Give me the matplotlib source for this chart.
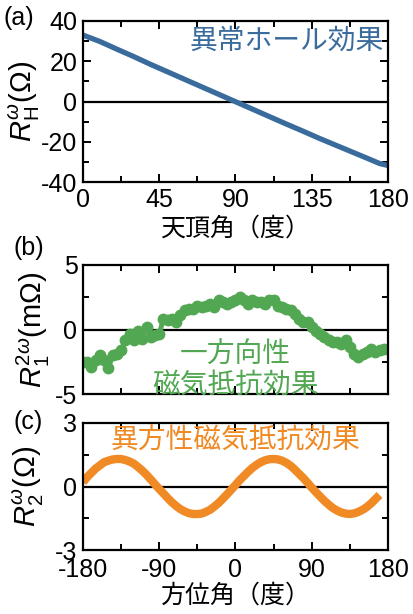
import matplotlib
matplotlib.use("Agg")
import matplotlib.pyplot as plt
from matplotlib.ticker import MultipleLocator

plt.rcParams['font.family'] = ['Liberation Sans', 'Noto Sans CJK JP', 'DejaVu Sans']
plt.rcParams['mathtext.fontset'] = 'custom'
plt.rcParams['mathtext.rm'] = 'Liberation Sans'
plt.rcParams['mathtext.it'] = 'Liberation Sans:italic'
plt.rcParams['axes.unicode_minus'] = False

# (a) anomalous Hall: zenith angle (deg) vs R_H (Ohm)
zenith = [0, 10, 20, 30, 40, 50, 60, 70, 80, 90, 100, 110, 120, 130, 140, 150, 160, 170, 175, 180]
r_hall = [33.0, 29.8, 26.0, 22.3, 18.4, 14.7, 11.0, 7.3, 3.6, -0.1, -3.8, -7.5, -11.2,
          -14.8, -18.5, -22.0, -25.5, -29.0, -30.8, -31.8]

# (b) unidirectional MR: azimuth (deg) vs R_1^2w (mOhm)
azim_b = list(range(-180, 180, 5))
r_umr = [-2.5, -2.5, -2.9, -2.4, -2.0, -2.4, -3.0, -2.0, -1.9, -1.6, -0.85, -0.35,
         -0.85, -0.1, -0.7, 0.2, -0.6, -0.45, -0.35, 0.85, 0.7, 0.85, 0.6, 1.1,
         1.5, 1.6, 1.6, 1.85, 1.75, 1.85, 2.0, 1.75, 2.25, 2.1, 2.0, 2.1,
         2.25, 2.5, 2.25, 2.0, 2.25, 2.1, 2.1, 2.0, 2.25, 2.25, 1.85, 1.75,
         1.6, 1.5, 1.2, 0.85, 0.55, 0.55, 0.2, -0.1, -0.35, -0.6, -0.85, -1.0,
         -1.0, -1.1, -0.85, -1.35, -1.9, -2.15, -1.9, -1.75, -1.5, -1.75, -1.6, -1.5]

# (c) anisotropic MR: azimuth (deg) vs R_2 (Ohm)
azim_c = list(range(-180, 175, 5))
r_amr = [0.2, 0.45, 0.65, 0.85, 1.0, 1.15, 1.22, 1.28, 1.3, 1.3, 1.25, 1.18,
         1.08, 0.92, 0.75, 0.55, 0.33, 0.1, -0.12, -0.33, -0.55, -0.75, -0.92, -1.07,
         -1.18, -1.26, -1.3, -1.3, -1.28, -1.2, -1.1, -0.95, -0.78, -0.58, -0.37, -0.15,
         0.07, 0.3, 0.5, 0.7, 0.88, 1.03, 1.15, 1.24, 1.29, 1.3, 1.28, 1.22,
         1.12, 0.98, 0.8, 0.6, 0.4, 0.18, -0.05, -0.27, -0.48, -0.68, -0.86, -1.02,
         -1.14, -1.23, -1.28, -1.3, -1.27, -1.2, -1.1, -0.97, -0.8, -0.6, -0.4]

blue = '#3a6b9d'
green = '#52a852'
orange = '#f08a24'
FS = 18
YFS = 21
JP = ['Noto Sans CJK JP', 'DejaVu Sans']

fig = plt.figure(figsize=(4.14, 6.14), dpi=100)
W, H = 414, 614


def make_ax(top, bottom):
    ax = fig.add_axes([83 / W, 1 - bottom / H, 305 / W, (bottom - top) / H])
    for s in ax.spines.values():
        s.set_linewidth(1.6)
    ax.tick_params(which='both', direction='in', top=True, right=True,
                   labelsize=FS, width=1.4, pad=4)
    ax.tick_params(which='major', length=6)
    ax.tick_params(which='minor', length=4)
    ax.axhline(0, color='black', lw=1.6, zorder=1)
    return ax


# panel (a)
ax1 = make_ax(21, 182)
ax1.plot(zenith, r_hall, color=blue, lw=3.8, solid_capstyle='round', zorder=2)
ax1.set_xlim(0, 180)
ax1.set_ylim(-40, 40)
ax1.xaxis.set_major_locator(MultipleLocator(45))
ax1.xaxis.set_minor_locator(MultipleLocator(22.5))
ax1.yaxis.set_major_locator(MultipleLocator(20))
ax1.yaxis.set_minor_locator(MultipleLocator(10))
ax1.set_xlabel('天頂角（度）', family=JP, fontsize=FS, labelpad=3)
ax1.set_ylabel(r'$R_\mathrm{H}^{\omega}$(Ω)', fontsize=YFS)
ax1.yaxis.set_label_coords(-0.135, 0.5)
ax1.text(0.985, 0.875, '異常ホール効果', transform=ax1.transAxes, color=blue,
         family=JP, fontsize=20, ha='right', va='center')

# panel (b)
ax2 = make_ax(265, 394)
ax2.plot(azim_b, r_umr, color=green, lw=3.5, marker='o', ms=7.5, zorder=2)
ax2.set_xlim(-180, 180)
ax2.set_ylim(-5, 5)
ax2.xaxis.set_major_locator(MultipleLocator(90))
ax2.xaxis.set_minor_locator(MultipleLocator(45))
ax2.yaxis.set_major_locator(MultipleLocator(5))
ax2.yaxis.set_minor_locator(MultipleLocator(2.5))
ax2.tick_params(labelbottom=False)
ax2.set_ylabel(r'$R_1^{2\omega}$(mΩ)', fontsize=YFS)
ax2.yaxis.set_label_coords(-0.1, 0.5)
ax2.text(0.5, 0.19, '一方向性\n磁気抵抗効果', transform=ax2.transAxes, color=green,
         family=JP, fontsize=20, ha='center', va='center', linespacing=1.0)

# panel (c)
ax3 = make_ax(423, 550)
ax3.plot(azim_c, r_amr, color=orange, lw=6, solid_capstyle='butt', zorder=2)
ax3.set_xlim(-180, 180)
ax3.set_ylim(-3, 3)
ax3.xaxis.set_major_locator(MultipleLocator(90))
ax3.xaxis.set_minor_locator(MultipleLocator(45))
ax3.yaxis.set_major_locator(MultipleLocator(3))
ax3.yaxis.set_minor_locator(MultipleLocator(1.5))
ax3.tick_params(axis='x', pad=6)
ax3.set_xlabel('方位角（度）', family=JP, fontsize=FS, labelpad=0)
ax3.set_ylabel(r'$R_2^{\omega}$(Ω)', fontsize=YFS)
ax3.yaxis.set_label_coords(-0.12, 0.5)
ax3.text(0.5, 0.86, '異方性磁気抵抗効果', transform=ax3.transAxes, color=orange,
         family=JP, fontsize=20, ha='center', va='center')

fig.text(4 / W, 1 - 18 / H, '(a)', fontsize=FS, va='center', ha='left')
fig.text(14 / W, 1 - 248 / H, '(b)', fontsize=FS, va='center', ha='left')
fig.text(14 / W, 1 - 422 / H, '(c)', fontsize=FS, va='center', ha='left')

fig.savefig('out.png', dpi=100)
